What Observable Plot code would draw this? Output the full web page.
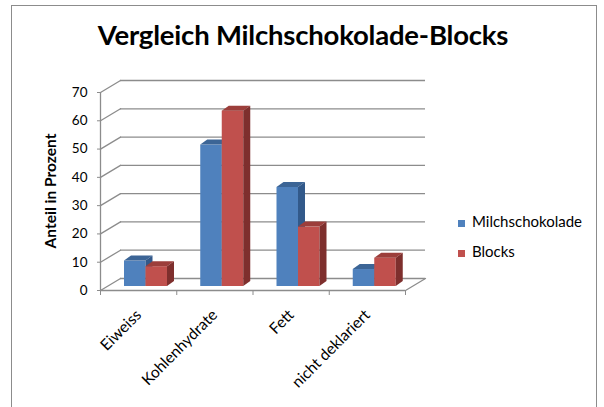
<!DOCTYPE html>
<html>
<head>
<meta charset="utf-8">
<script src="https://cdn.jsdelivr.net/npm/d3@7"></script>
<script src="https://cdn.jsdelivr.net/npm/@observablehq/plot@0.6"></script>
<style>
  html, body { margin: 0; padding: 0; background: #fff; }
  #wrap { position: relative; width: 604px; height: 407px; overflow: hidden; font-family: Lato, "Open Sans", sans-serif; color: #000; }
  #frame { position: absolute; left: 11px; top: 5px; width: 586px; height: 430px; border: 1.5px solid #8c8c8c; box-sizing: border-box; }
  #title { position: absolute; left: 0; width: 606px; top: 18px; text-align: center; font-weight: 700; font-size: 27.5px; letter-spacing: -0.2px; }
  #ylabel { position: absolute; left: 50px; top: 191px; transform: translate(-50%, -50%) rotate(-90deg); font-weight: 700; font-size: 15.5px; white-space: nowrap; }
  #legend { position: absolute; left: 458px; top: 212px; font-size: 15px; }
  .item { position: relative; height: 30px; }
  .sw { position: absolute; left: 0; top: 8px; width: 7px; height: 7px; }
  .lt { position: absolute; left: 14px; top: 0px; white-space: nowrap; }
  #chart { position: absolute; left: 0; top: 0; }
</style>
</head>
<body>
<div id="wrap">
  <div id="frame"></div>
  <div id="title"></div>
  <div id="ylabel"></div>
  <div id="chart"></div>
  <div id="legend"></div>
</div>
<script>
const chartTitle = "Vergleich Milchschokolade-Blocks";
const yTitle = "Anteil in Prozent";
const categories = ["Eiweiss", "Kohlenhydrate", "Fett", "nicht deklariert"];
const seriesNames = ["Milchschokolade", "Blocks"];
const milchschokolade = [9, 50, 35, 6];
const blocks = [7, 62, 21, 10];
const yTicks = [0, 10, 20, 30, 40, 50, 60, 70];
const frontColors = ["#4F81BD", "#C0504D"];
const topColors = ["#3C6596", "#9C3E3B"];
const sideColors = ["#32598A", "#7E2F2D"];

document.getElementById("title").textContent = chartTitle;
document.getElementById("ylabel").textContent = yTitle;

const seriesValues = [milchschokolade, blocks];
const rows = seriesNames.map((s, k) => categories.map((c, i) => ({cat: c, i, series: s, k, value: seriesValues[k][i]})));

const W = 604, H = 407;
const mLeft = 100, mRight = 199, mTop = 92, mBottom = 117;
const band = (W - mLeft - mRight) / categories.length;
const barW = 21.5, firstInset = 18, depthX = 7, depthY = 5;
const barDx = 6, barDy = -4;
const wallDx = 20, wallDy = -12;
const grid = "#8c8c8c";

const lineShape = {draw(context, l) { context.moveTo(0, 0); context.lineTo(0, -l); }};

function insets(k, part) {
  const left = firstInset + k * barW;
  if (part === "side") return {insetLeft: left + barW, insetRight: band - left - barW - depthX};
  return {insetLeft: left, insetRight: band - left - barW};
}

const barMarks = [];
rows.forEach((data, k) => {
  barMarks.push(Plot.rect(data, {x1: "i", x2: d => d.i + 1, y1: 0, y2: "value", fill: frontColors[k], dx: barDx, dy: barDy, ...insets(k, "front")}));
  barMarks.push(Plot.rect(data, {x1: "i", x2: d => d.i + 1, y1: "value", y2: "value", insetTop: -depthY, fill: topColors[k], dx: barDx, dy: barDy, ariaDescription: "top-face", ...insets(k, "front")}));
  barMarks.push(Plot.rect(data, {x1: "i", x2: d => d.i + 1, y1: 0, y2: "value", fill: sideColors[k], dx: barDx, dy: barDy, ariaDescription: "side-face", ...insets(k, "side")}));
});

const diagLen = Math.hypot(wallDx, wallDy);
const diagRot = Math.atan2(wallDx, -wallDy) * 180 / Math.PI;

const plot = Plot.plot({
  width: W, height: H,
  marginLeft: mLeft, marginRight: mRight, marginTop: mTop, marginBottom: mBottom,
  style: {fontFamily: "Lato, 'Open Sans', sans-serif", fontSize: "13px", color: "#000", background: "transparent"},
  x: {domain: [0, categories.length], axis: null},
  y: {domain: [0, 70], axis: null},
  marks: [
    Plot.ruleY(yTicks, {dx: wallDx, dy: wallDy, stroke: grid, strokeWidth: 1.3}),
    Plot.vector(yTicks, {y: d => d, frameAnchor: "left", length: diagLen, rotate: diagRot, anchor: "start", shape: lineShape, stroke: grid, strokeWidth: 1.3}),
    Plot.vector([0], {y: d => d, frameAnchor: "right", length: diagLen, rotate: diagRot, anchor: "start", shape: lineShape, stroke: grid, strokeWidth: 1.3}),
    Plot.ruleY([0], {stroke: grid, strokeWidth: 1.3}),
    Plot.ruleX([0], {y1: 0, y2: 70, stroke: grid, strokeWidth: 1.3}),
    Plot.axisY(yTicks, {tickSize: 3, tickPadding: 10, stroke: grid, fontSize: 13.5, label: null}),
    Plot.axisX(d3.range(categories.length + 1), {tickSize: 5, tickFormat: () => "", stroke: grid, label: null}),
    Plot.axisX(categories.map((c, i) => i + 0.5), {tickSize: 0, tickRotate: -45, tickPadding: 22, dx: 0, tickFormat: d => categories[Math.floor(d)], fontSize: 15.5, label: null}),
    ...barMarks
  ]
});

// give the 3D faces their slant
const tanTop = depthX / depthY;
d3.select(plot).selectAll('g[aria-description="top-face"] rect').each(function() {
  const r = d3.select(this);
  const y0 = +r.attr("y") + +r.attr("height");
  r.attr("transform", `translate(0,${y0}) skewX(${-Math.atan(tanTop) * 180 / Math.PI}) translate(0,${-y0})`);
});
d3.select(plot).selectAll('g[aria-description="side-face"] rect').each(function() {
  const r = d3.select(this);
  const x0 = +r.attr("x");
  r.attr("transform", `translate(${x0},0) skewY(${-Math.atan(depthY / depthX) * 180 / Math.PI}) translate(${-x0},0)`);
});

document.getElementById("chart").appendChild(plot);

const legend = document.getElementById("legend");
seriesNames.forEach((s, k) => {
  const item = document.createElement("div");
  item.className = "item";
  const sw = document.createElement("div");
  sw.className = "sw";
  sw.style.background = frontColors[k];
  const lt = document.createElement("div");
  lt.className = "lt";
  lt.textContent = s;
  item.appendChild(sw);
  item.appendChild(lt);
  legend.appendChild(item);
});
</script>
</body>
</html>
